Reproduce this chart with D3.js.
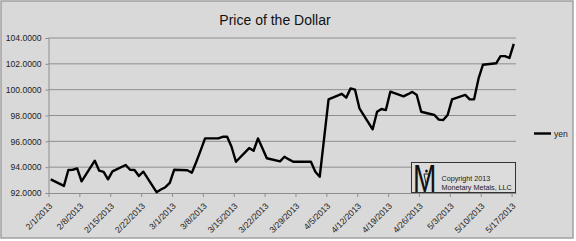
<!DOCTYPE html>
<html>
<head>
<meta charset="utf-8">
<script src="https://cdn.jsdelivr.net/npm/d3@7"></script>
<style>
  html, body { margin: 0; padding: 0; background: #ffffff; }
  svg { display: block; }
  text { font-family: "Liberation Sans", Arial, sans-serif; }
</style>
</head>
<body>
<svg id="chart" width="576" height="241"></svg>
<script>
const title = "Price of the Dollar";
const seriesName = "yen";
const dates = [
  "2013-02-01","2013-02-04","2013-02-05","2013-02-06","2013-02-07","2013-02-08",
  "2013-02-11","2013-02-12","2013-02-13","2013-02-14","2013-02-15",
  "2013-02-18","2013-02-19","2013-02-20","2013-02-21","2013-02-22",
  "2013-02-25","2013-02-26","2013-02-27","2013-02-28","2013-03-01",
  "2013-03-04","2013-03-05","2013-03-06","2013-03-07","2013-03-08",
  "2013-03-11","2013-03-12","2013-03-13","2013-03-14","2013-03-15",
  "2013-03-18","2013-03-19","2013-03-20","2013-03-21","2013-03-22",
  "2013-03-25","2013-03-26","2013-03-27","2013-03-28","2013-03-29",
  "2013-04-01","2013-04-02","2013-04-03","2013-04-04","2013-04-05",
  "2013-04-08","2013-04-09","2013-04-10","2013-04-11","2013-04-12",
  "2013-04-15","2013-04-16","2013-04-17","2013-04-18","2013-04-19",
  "2013-04-22","2013-04-23","2013-04-24","2013-04-25","2013-04-26",
  "2013-04-29","2013-04-30","2013-05-01","2013-05-02","2013-05-03",
  "2013-05-06","2013-05-07","2013-05-08","2013-05-09","2013-05-10",
  "2013-05-13","2013-05-14","2013-05-15","2013-05-16","2013-05-17"
];
const yen = [
  93.05, 92.55, 93.78, 93.80, 93.90, 92.90,
  94.50, 93.73, 93.63, 93.06, 93.68,
  94.17, 93.80, 93.78, 93.32, 93.65,
  92.06, 92.27, 92.45, 92.78, 93.80,
  93.76, 93.57, 94.40, 95.30, 96.23,
  96.23, 96.35, 96.36, 95.58, 94.42,
  95.48, 95.27, 96.23, 95.46, 94.69,
  94.45, 94.81, 94.60, 94.42, 94.42,
  94.42, 93.65, 93.26, 96.25, 99.25,
  99.68, 99.38, 100.10, 100.00, 98.56,
  96.93, 98.29, 98.50, 98.42, 99.84,
  99.48, 99.65, 99.83, 99.59, 98.29,
  98.04, 97.68, 97.65, 98.04, 99.25,
  99.59, 99.25, 99.25, 100.85, 101.93,
  102.04, 102.60, 102.60, 102.45, 103.55
];
const yTicks = [92, 94, 96, 98, 100, 102, 104];
const xTickDates = [
  "2013-02-01","2013-02-08","2013-02-15","2013-02-22","2013-03-01","2013-03-08",
  "2013-03-15","2013-03-22","2013-03-29","2013-04-05","2013-04-12","2013-04-19",
  "2013-04-26","2013-05-03","2013-05-10","2013-05-17"
];
const xDomain = ["2013-02-01", "2013-05-18"];
const copyrightLines = ["Copyright 2013", "Monetary Metals, LLC"];

const svg = d3.select("#chart");
const W = 576, H = 241;
const plot = { left: 48.5, right: 516, top: 38, bottom: 193 };

// chart area background
svg.append("rect")
  .attr("x", 1).attr("y", 1).attr("width", W - 4).attr("height", H - 4)
  .attr("fill", "#d9d9d9").attr("stroke", "#a0a0a0").attr("stroke-width", 1.5);

const parse = d3.utcParse("%Y-%m-%d");
const x = d3.scaleUtc()
  .domain(xDomain.map(parse))
  .range([plot.left, plot.right]);
const y = d3.scaleLinear()
  .domain([yTicks[0], yTicks[yTicks.length - 1]])
  .range([plot.bottom, plot.top]);

const halfDay = 12 * 3600 * 1000;
const data = dates.map((d, i) => ({ date: new Date(parse(d).getTime() + halfDay), v: yen[i] }));

// gridlines
svg.append("g").selectAll("line")
  .data(yTicks.slice(1))
  .join("line")
  .attr("x1", plot.left).attr("x2", plot.right)
  .attr("y1", d => y(d)).attr("y2", d => y(d))
  .attr("stroke", "#8e8e8e").attr("stroke-width", 1);

// y axis
const yAxis = svg.append("g")
  .attr("transform", `translate(${plot.left},0)`)
  .call(d3.axisLeft(y).tickValues(yTicks).tickFormat(d3.format(".4f")).tickSize(3).tickPadding(4));
yAxis.select(".domain").attr("stroke", "#8e8e8e");
yAxis.selectAll(".tick line").attr("stroke", "#8e8e8e");
yAxis.selectAll("text").attr("font-size", 8.6).attr("fill", "#222")
  .attr("font-family", "'Liberation Sans', Arial, sans-serif");

// x axis
const xAxis = svg.append("g")
  .attr("transform", `translate(0,${plot.bottom})`)
  .call(d3.axisBottom(x).tickValues(xTickDates.map(parse))
    .tickFormat(d3.utcFormat("%-m/%-d/%Y")).tickSize(4).tickSizeOuter(0));
xAxis.select(".domain").attr("stroke", "#8e8e8e");
xAxis.selectAll(".tick line").attr("stroke", "#8e8e8e");
xAxis.selectAll("text")
  .attr("font-size", 8.6).attr("fill", "#222")
  .attr("font-family", "'Liberation Sans', Arial, sans-serif")
  .attr("text-anchor", "end")
  .attr("dy", null).attr("y", null)
  .attr("transform", "translate(4,13.5) rotate(-45)");

// line
svg.append("path")
  .datum(data)
  .attr("fill", "none")
  .attr("stroke", "#000")
  .attr("stroke-width", 2.4)
  .attr("stroke-linejoin", "round")
  .attr("d", d3.line().x(d => x(d.date)).y(d => y(d.v)));

// title
svg.append("text")
  .attr("x", 275).attr("y", 25)
  .attr("text-anchor", "middle")
  .attr("font-size", 14).attr("fill", "#111")
  .text(title);

// legend
svg.append("line")
  .attr("x1", 534).attr("x2", 551).attr("y1", 133.5).attr("y2", 133.5)
  .attr("stroke", "#000").attr("stroke-width", 2.4);
svg.append("text")
  .attr("x", 554).attr("y", 136.5)
  .attr("font-size", 8.6).attr("fill", "#222")
  .text(seriesName);

// copyright box
const cb = svg.append("g");
cb.append("rect")
  .attr("x", 411.5).attr("y", 162.5).attr("width", 104).attr("height", 30)
  .attr("fill", "#dcdcdc").attr("stroke", "#333").attr("stroke-width", 1);
cb.append("text")
  .attr("transform", "translate(413,191.5) scale(0.72,1)")
  .attr("font-family", "'Liberation Serif', 'DejaVu Serif', serif")
  .attr("font-size", 39).attr("fill", "#111")
  .text("M");
// small figure inside the M
cb.append("ellipse").attr("cx", 426.5).attr("cy", 171).attr("rx", 1.3).attr("ry", 1.6).attr("fill", "#111");
cb.append("path")
  .attr("d", "M424,174 L426.5,186 L429,174 Z")
  .attr("fill", "none").attr("stroke", "#111").attr("stroke-width", 0.9);
cb.selectAll("text.c")
  .data(copyrightLines)
  .join("text")
  .attr("class", "c")
  .attr("x", 441.5).attr("y", (d, i) => 181 + i * 9)
  .attr("font-size", 7.2).attr("fill", "#222")
  .text(d => d);
</script>
</body>
</html>
